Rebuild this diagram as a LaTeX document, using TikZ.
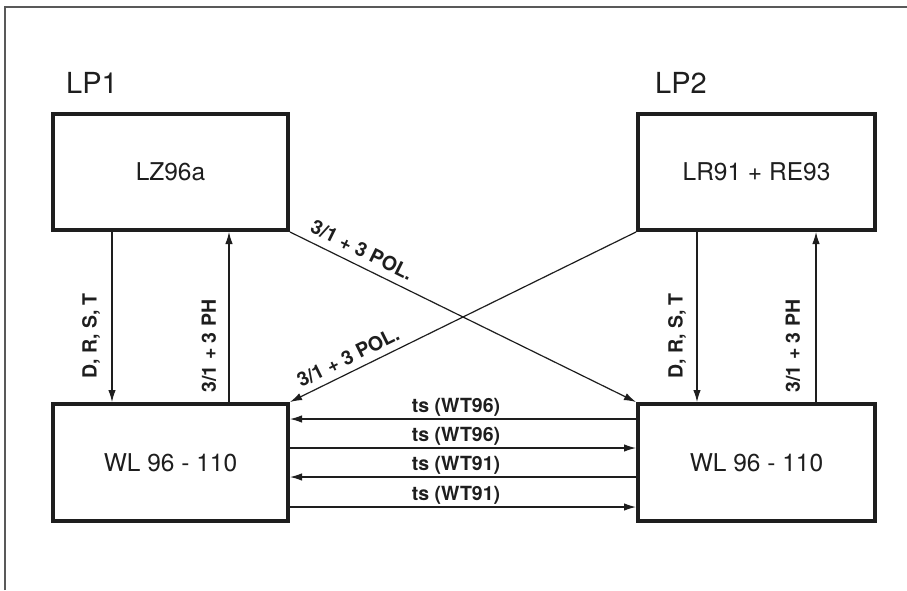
\documentclass[tikz,border=0pt]{standalone}
\usepackage{fontspec}
\setmainfont{TeX Gyre Heros}
\usetikzlibrary{arrows.meta}
\definecolor{ink}{HTML}{1E1E1E}
\tikzset{
  box/.style={draw=ink, line width=4pt, rectangle, inner sep=0pt, text=ink,
              font=\fontsize{24.5}{27}\selectfont},
  conn/.style={draw=ink, line width=1.2pt, -{Latex[length=12pt,width=7.5pt]}},
  lab/.style={text=ink, inner sep=0pt, font=\fontsize{19.5}{21}\selectfont\bfseries},
  title/.style={text=ink, inner sep=0pt, anchor=base west, font=\fontsize{29}{31}\selectfont},
  frame/.style={draw=black!65, line width=1.4pt}
}
\begin{document}
\begin{tikzpicture}[x=1pt, y=-1pt]
\useasboundingbox (0,0) rectangle (907,590);
\fill[white] (0,0) rectangle (907,590);
\draw[frame] (5,590) -- (5,7) -- (907,7);

% titles
\node[title] (lp1) at (66,93) {LP1};
\node[title] (lp2) at (655,93) {LP2};

% boxes
\node[box, minimum width=235pt, minimum height=116pt] (lz) at (170.5,172) {LZ96a};
\node[box, minimum width=237pt, minimum height=116pt] (lr) at (756.5,172) {LR91 + RE93};
\node[box, minimum width=235pt, minimum height=117pt] (wll) at (170.5,462.5) {WL 96 - 110};
\node[box, minimum width=237pt, minimum height=117pt] (wlr) at (756.5,462.5) {WL 96 - 110};

% column coordinates
\coordinate (c1) at (112,0);
\coordinate (c2) at (229,0);
\coordinate (c3) at (697,0);
\coordinate (c4) at (816,0);
% row coordinates
\coordinate (r1) at (0,419);
\coordinate (r2) at (0,448);
\coordinate (r3) at (0,477);
\coordinate (r4) at (0,507);

% vertical connectors
\draw[conn] (lz.south -| c1) -- (wll.north -| c1);
\draw[conn] (wll.north -| c2) -- (lz.south -| c2);
\draw[conn] (lr.south -| c3) -- (wlr.north -| c3);
\draw[conn] (wlr.north -| c4) -- (lr.south -| c4);

\node[lab, rotate=90] (l1) at (91,336) {D, R, S, T};
\node[lab, rotate=90] (l2) at (209,346) {3/1 + 3 PH};
\node[lab, rotate=90] (l3) at (677,336) {D, R, S, T};
\node[lab, rotate=90] (l4) at (793,346) {3/1 + 3 PH};

% diagonal connectors
\draw[conn] (lz.south east) -- (wlr.north west);
\draw[conn] (lr.south west) -- (wll.north east);
\node[lab, rotate=-26.3] (p1) at (362,250) {3/1 + 3 POL.};
\node[lab, rotate=26.3] (p2) at (348,357) {3/1 + 3 POL.};

% horizontal connectors
\draw[conn] (wlr.west |- r1) -- (wll.east |- r1);
\draw[conn] (wll.east |- r2) -- (wlr.west |- r2);
\draw[conn] (wlr.west |- r3) -- (wll.east |- r3);
\draw[conn] (wll.east |- r4) -- (wlr.west |- r4);

\node[lab, anchor=base] (t1) at (456,412.5) {ts (WT96)};
\node[lab, anchor=base] (t2) at (456,441.5) {ts (WT96)};
\node[lab, anchor=base] (t3) at (456,470.5) {ts (WT91)};
\node[lab, anchor=base] (t4) at (456,500.5) {ts (WT91)};
\end{tikzpicture}
\end{document}
